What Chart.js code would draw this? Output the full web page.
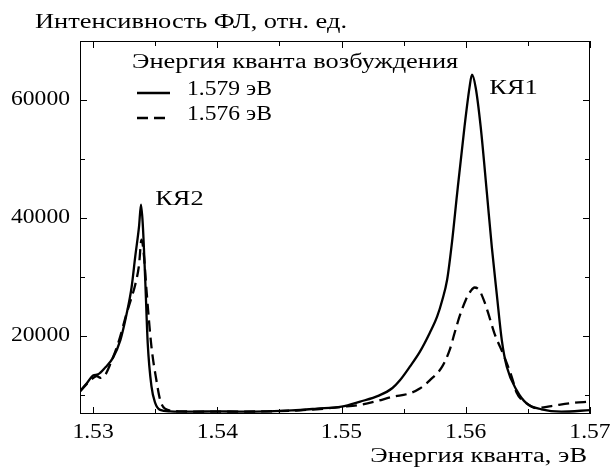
<!DOCTYPE html>
<html>
<head>
<meta charset="utf-8">
<script src="https://cdn.jsdelivr.net/npm/chart.js@4.4.1/dist/chart.umd.min.js"></script>
<style>
    body { margin: 0; background: #ffffff; }
    #wrap { width: 610px; height: 468px; }
</style>
</head>
<body>
<div id="wrap"><canvas id="canvas-spectrum" width="610" height="468"></canvas></div>
<script>
// PL spectra: photon energy (eV) and intensity (arb. units)
var energy_1579 = [1.52895, 1.5295, 1.5300, 1.5304, 1.5310, 1.5316, 1.5322, 1.5327, 1.5331, 1.5334,
    1.5337, 1.53386, 1.5340, 1.5342, 1.5344, 1.5347, 1.5350, 1.5354, 1.5362, 1.5380,
    1.5400, 1.5420, 1.5440, 1.5460, 1.5480, 1.5500, 1.5515, 1.5530, 1.5541, 1.5547,
    1.5555, 1.5563, 1.5571, 1.5577, 1.5581, 1.5585, 1.5589, 1.5593, 1.5599, 1.5603, 1.5605,
    1.5608, 1.5612, 1.5617, 1.5621, 1.5625, 1.5629, 1.5633, 1.5641, 1.5649, 1.5661,
    1.5677, 1.5700];
var pl_1579 = [10700, 12000, 13300, 13500, 14700, 16300, 19300, 23700, 28200, 33500,
    38500, 42200, 39000, 29500, 18800, 11500, 8700, 7500, 7250, 7200,
    7250, 7200, 7250, 7400, 7700, 8050, 8900, 9900, 11200, 12500,
    14800, 17300, 20500, 23300, 26000, 29500, 36000, 44000, 55400, 62000, 64200,
    62000, 55400, 44200, 35000, 27000, 19300, 14800, 10800, 8600, 7600,
    7200, 7450];

var energy_1576 = [1.52895, 1.5295, 1.5300, 1.5303, 1.5306, 1.5310, 1.5314, 1.5321, 1.5327, 1.5331,
    1.5334, 1.5337, 1.5339, 1.5341, 1.5343, 1.5347, 1.5351, 1.5354, 1.5358, 1.5370,
    1.5400, 1.5440, 1.5480, 1.5500, 1.5515, 1.5527, 1.5541, 1.5555, 1.5563, 1.5571,
    1.5581, 1.5587, 1.5591, 1.5595, 1.5600, 1.5604, 1.5607, 1.5611, 1.5615, 1.5618,
    1.5623, 1.5631, 1.5637, 1.5641, 1.5649, 1.5657, 1.5669, 1.5685, 1.5700];
var pl_1576 = [10600, 11900, 12900, 13200, 12900, 13500, 15300, 19300, 23800, 26500,
    28700, 32000, 36300, 33500, 27800, 18200, 12500, 9200, 7700, 7250,
    7200, 7250, 7600, 8000, 8350, 8900, 9700, 10300, 11100, 12500,
    14800, 17600, 20500, 23300, 26100, 27600, 28200, 27700, 25800, 23900,
    20500, 16500, 13100, 10400, 8600, 7800, 8150, 8650, 8900];

// axis ticks and labels
var xTicks = [1.53, 1.535, 1.54, 1.545, 1.55, 1.555, 1.56, 1.565, 1.57];
var xLabels = [1.53, 1.54, 1.55, 1.56, 1.57];
var yTicks = [10000, 20000, 30000, 40000, 50000, 60000];
var yLabels = [20000, 40000, 60000];

var seriesNames = ['1.579 эВ', '1.576 эВ'];
var legendTitle = 'Энергия кванта возбуждения';
var peakNames = ['КЯ1', 'КЯ2'];
var xTitle = 'Энергия кванта, эВ';
var yTitle = 'Интенсивность ФЛ, отн. ед.';

const FONT = '"Liberation Serif", serif';

function toPoints(xs, ys) {
    return xs.map((x, i) => ({ x: x, y: ys[i] }));
}

// text in the source figure is wider than Liberation Serif, so stretch it a bit
function wideText(ctx, text, x, y, align, stretch) {
    const w = ctx.measureText(text).width * stretch;
    let x0 = x;
    if (align === 'right') x0 = x - w;
    if (align === 'center') x0 = x - w / 2;
    ctx.save();
    ctx.translate(x0, y);
    ctx.scale(stretch, 1);
    ctx.textAlign = 'left';
    ctx.fillText(text, 0, 0);
    ctx.restore();
}

// frame, inward ticks on all four sides, tick labels, titles, legend and peak labels
const decorations = {
    id: 'decorations',
    afterDraw(chart) {
        const ctx = chart.ctx;
        const a = chart.chartArea;
        const sx = chart.scales.x;
        const sy = chart.scales.y;
        ctx.save();
        ctx.strokeStyle = '#000';
        ctx.lineWidth = 1;
        ctx.setLineDash([]);
        ctx.strokeRect(Math.round(a.left) + 0.5, Math.round(a.top) + 0.5,
            Math.round(a.right - a.left) - 1, Math.round(a.bottom - a.top) - 1);

        ctx.beginPath();
        sx.ticks.forEach(t => {
            const px = Math.round(sx.getPixelForValue(t.value)) + 0.5;
            const len = xLabels.includes(t.value) ? 7 : 5;
            ctx.moveTo(px, a.bottom); ctx.lineTo(px, a.bottom - len);
            ctx.moveTo(px, a.top); ctx.lineTo(px, a.top + len);
        });
        sy.ticks.forEach(t => {
            const py = Math.round(sy.getPixelForValue(t.value)) + 0.5;
            const len = yLabels.includes(t.value) ? 7 : 5;
            ctx.moveTo(a.left, py); ctx.lineTo(a.left + len, py);
            ctx.moveTo(a.right, py); ctx.lineTo(a.right - len, py);
        });
        ctx.stroke();

        ctx.fillStyle = '#000';
        ctx.font = '20px ' + FONT;
        ctx.textBaseline = 'alphabetic';
        const k = 312 / ctx.measureText(yTitle).width;
        const kt = 59 / ctx.measureText('60000').width;

        // tick labels
        sx.ticks.forEach(t => {
            if (!t.label) return;
            wideText(ctx, t.label, sx.getPixelForValue(t.value), a.bottom + 24, 'center', kt);
        });
        sy.ticks.forEach(t => {
            if (!t.label) return;
            wideText(ctx, t.label, a.left - 10, sy.getPixelForValue(t.value) + 5, 'right', kt);
        });

        // axis titles
        wideText(ctx, yTitle, 35, 28, 'left', k);
        wideText(ctx, xTitle, 587, 462, 'right', k);

        // legend
        wideText(ctx, legendTitle, 132, 68, 'left', k);
        chart.data.datasets.forEach((ds, i) => {
            const yb = 95 + i * 25;
            ctx.beginPath();
            ctx.lineWidth = ds.borderWidth;
            ctx.setLineDash(ds.borderDash || []);
            ctx.moveTo(137, yb - 2);
            ctx.lineTo(170, yb - 2);
            ctx.stroke();
            ctx.setLineDash([]);
            wideText(ctx, ds.label, 187, yb, 'left', kt);
        });

        // peak labels
        wideText(ctx, peakNames[0], sx.getPixelForValue(1.5619), sy.getPixelForValue(60900), 'left', k);
        wideText(ctx, peakNames[1], sx.getPixelForValue(1.5350), sy.getPixelForValue(42200), 'left', k);
        ctx.restore();
    }
};

const config = {
    type: 'line',
    data: {
        datasets: [
            {
                label: seriesNames[0],
                data: toPoints(energy_1579, pl_1579),
                borderColor: '#000000',
                borderWidth: 2.3,
                pointRadius: 0,
                cubicInterpolationMode: 'monotone',
                fill: false
            },
            {
                label: seriesNames[1],
                data: toPoints(energy_1576, pl_1576),
                borderColor: '#000000',
                borderWidth: 2.3,
                borderDash: [11, 6],
                pointRadius: 0,
                cubicInterpolationMode: 'monotone',
                fill: false
            }
        ]
    },
    options: {
        responsive: false,
        animation: false,
        layout: { padding: { top: 41, right: 20, left: 0, bottom: 0 } },
        plugins: { legend: { display: false }, tooltip: { enabled: false } },
        scales: {
            x: {
                type: 'linear',
                min: 1.52895,
                max: 1.57,
                grid: { display: false, drawTicks: false },
                border: { display: false },
                afterBuildTicks: s => { s.ticks = xTicks.map(v => ({ value: v })); },
                afterFit: s => { s.height = 54; s.paddingLeft = 0; s.paddingRight = 0; },
                ticks: {
                    display: false,
                    autoSkip: false,
                    maxRotation: 0,
                    callback: v => xLabels.includes(v) ? v.toFixed(2) : ''
                }
            },
            y: {
                min: 6800,
                max: 69900,
                grid: { display: false, drawTicks: false },
                border: { display: false },
                afterBuildTicks: s => { s.ticks = yTicks.map(v => ({ value: v })); },
                afterFit: s => { s.width = 80; s.paddingTop = 0; s.paddingBottom = 0; },
                ticks: {
                    display: false,
                    autoSkip: false,
                    callback: v => yLabels.includes(v) ? String(v) : ''
                }
            }
        }
    },
    plugins: [decorations]
};

var ctx_spec = document.getElementById('canvas-spectrum').getContext('2d');
var specChart = new Chart(ctx_spec, config);
</script>
</body>
</html>
